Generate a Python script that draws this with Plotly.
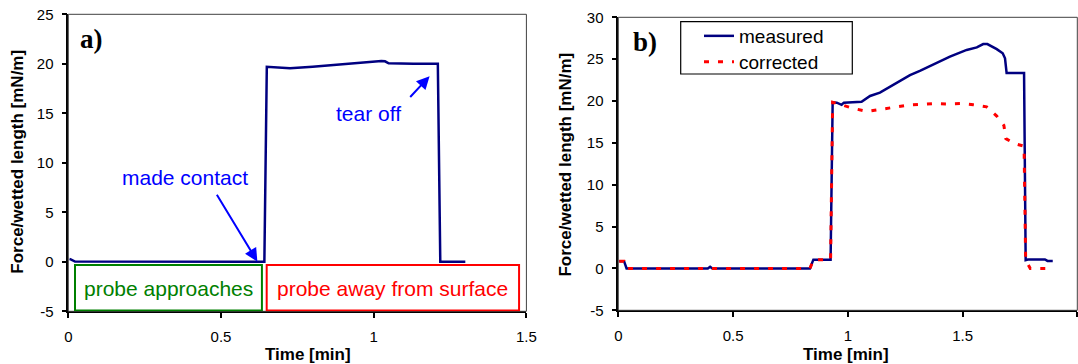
import plotly.graph_objects as go

# ---------------- data ----------------
# panel a (measured)
time_a = [0.004, 0.008, 0.022, 0.15, 0.30, 0.36, 0.45, 0.60, 0.638, 0.642, 0.650, 0.726, 0.80,
          0.857, 0.93, 0.988, 1.025, 1.037, 1.049, 1.130, 1.210, 1.218, 1.300]
force_a = [0.28, 0.25, 0.03, 0.02, 0.0, 0.05, 0.02, 0.0, 0.0, 0.0, 19.7, 19.55, 19.7,
           19.85, 20.0, 20.2, 20.28, 20.25, 20.05, 20.0, 20.0, 0.0, 0.0]

# panel b
time_meas = [0.004, 0.025, 0.036, 0.39, 0.40, 0.41, 0.835, 0.850, 0.922, 0.925, 0.934, 0.952,
             0.973, 0.983, 1.06, 1.097, 1.14, 1.198, 1.271, 1.314, 1.387, 1.445, 1.518, 1.562,
             1.590, 1.608, 1.649, 1.675, 1.685, 1.692, 1.768, 1.775, 1.785, 1.859, 1.870, 1.893]
force_meas = [0.87, 0.87, 0.0, 0.0, 0.2, 0.0, 0.0, 1.05, 1.05, 1.05, 19.85, 19.8,
              19.55, 19.8, 19.9, 20.6, 21.0, 21.9, 23.1, 23.6, 24.6, 25.3, 26.1, 26.4,
              26.8, 26.8, 26.2, 25.7, 25.1, 23.35, 23.35, 1.0, 1.07, 1.07, 0.9, 0.9]

time_corr = [0.004, 0.025, 0.036, 0.835, 0.850, 0.922, 0.925, 0.934, 0.973, 1.027, 1.085,
             1.14, 1.20, 1.259, 1.315, 1.376, 1.434, 1.489, 1.547, 1.605, 1.649, 1.680,
             1.689, 1.729, 1.768, 1.775, 1.795, 1.866]
force_corr = [0.87, 0.87, 0.0, 0.0, 1.05, 1.05, 1.05, 19.85, 19.55, 19.1, 18.75,
              19.0, 19.3, 19.5, 19.6, 19.7, 19.65, 19.7, 19.55, 19.3, 18.2, 17.1,
              15.5, 14.9, 14.6, 1.0, 0.0, 0.0]

xticks_a = [0, 0.5, 1, 1.5]
xticklabels_a = ["0", "0.5", "1", "1.5"]
yticks_a = [-5, 0, 5, 10, 15, 20, 25]
yticklabels_a = ["-5", "0", "5", "10", "15", "20", "25"]
xticks_b = [0, 0.5, 1, 1.5, 2]
xticklabels_b = ["0", "0.5", "1", "1.5", "2"]
yticks_b = [-5, 0, 5, 10, 15, 20, 25, 30]
yticklabels_b = ["-5", "0", "5", "10", "15", "20", "25", "30"]

W, H = 1078, 364
FONT = "Arial, Liberation Sans, sans-serif"
NAVY = "#000080"


def px(x):
    return x / W


def py(y):
    return (H - y) / H


fig = go.Figure()

fig.add_trace(go.Scatter(x=time_a, y=force_a, mode="lines", xaxis="x", yaxis="y",
                         line=dict(color=NAVY, width=2.5), showlegend=False))
fig.add_trace(go.Scatter(x=time_meas, y=force_meas, mode="lines", xaxis="x2", yaxis="y2",
                         name="measured", legend="legend", line=dict(color=NAVY, width=2.5)))
fig.add_trace(go.Scatter(x=time_corr, y=force_corr, mode="lines", xaxis="x2", yaxis="y2",
                         name="corrected", legend="legend2",
                         line=dict(color="#FF0000", width=3, dash="5px,9px")))

axis_common = dict(showgrid=False, zeroline=False, showline=True, linecolor="black", linewidth=1.5,
                   ticks="outside", ticklen=5, tickwidth=1.5, tickcolor="black", automargin=False,
                   tickfont=dict(family=FONT, size=15, color="black"))

legend_common = dict(xanchor="left", yanchor="top", bgcolor="rgba(0,0,0,0)", borderwidth=0,
                     itemwidth=30, font=dict(family=FONT, size=19, color="black"))

fig.update_layout(
    width=W, height=H,
    margin=dict(l=0, r=0, t=0, b=0, pad=0, autoexpand=False),
    paper_bgcolor="white", plot_bgcolor="white",
    xaxis=dict(domain=[px(68.3), px(526.4)], range=[0, 1.5], anchor="y",
               tickvals=xticks_a, ticktext=xticklabels_a, ticklabelstandoff=6, **axis_common),
    yaxis=dict(domain=[py(311.3), py(14.3)], range=[-5, 25], anchor="x",
               tickvals=yticks_a, ticktext=yticklabels_a, ticklabelstandoff=5, **axis_common),
    xaxis2=dict(domain=[px(618.3), px(1077.3)], range=[0, 2], anchor="y2",
                tickvals=xticks_b, ticktext=xticklabels_b, ticklabelstandoff=6, **axis_common),
    yaxis2=dict(domain=[py(310.3), py(17.3)], range=[-5, 30], anchor="x2",
                tickvals=yticks_b, ticktext=yticklabels_b, ticklabelstandoff=5, **axis_common),
    legend=dict(x=px(699), y=py(17), **legend_common),
    legend2=dict(x=px(699), y=py(43), **legend_common),
)

shapes = []
# top/right frame of each panel
for xr, yr in (("x domain", "y domain"), ("x2 domain", "y2 domain")):
    shapes.append(dict(type="rect", xref=xr, yref=yr, x0=0, x1=1, y0=0, y1=1,
                       line=dict(color="#404040", width=1), layer="above"))
# labelled boxes in panel a
shapes.append(dict(type="rect", xref="x", yref="y", x0=0.0219, x1=0.634, y0=-0.33, y1=-4.91,
                   line=dict(color="#008000", width=2)))
shapes.append(dict(type="rect", xref="x", yref="y", x0=0.6496, x1=1.476, y0=-0.33, y1=-4.91,
                   line=dict(color="#FF0000", width=2)))
# legend frame
shapes.append(dict(type="rect", xref="paper", yref="paper", x0=px(680.7), x1=px(852.3),
                   y0=py(74), y1=py(21.7), line=dict(color="black", width=1.2)))
fig.update_layout(shapes=shapes)

ann = []
TXT = dict(family=FONT, size=21)
C = dict(xanchor="center", yanchor="middle")
ann.append(dict(x=0.3805, y=8.48, xref="x", yref="y", text="made contact", showarrow=False,
                font=dict(color="#0000FF", **TXT), **C))
ann.append(dict(x=0.619, y=0.03, ax=0.4835, ay=6.93, xref="x", yref="y", axref="x", ayref="y",
                text="", showarrow=True, arrowhead=2, arrowsize=1.3, arrowwidth=2,
                arrowcolor="#0000FF", standoff=0))
ann.append(dict(x=0.9816, y=15.0, xref="x", yref="y", text="tear off", showarrow=False,
                font=dict(color="#0000FF", **TXT), **C))
ann.append(dict(x=1.183, y=18.75, ax=1.115, ay=16.5, xref="x", yref="y", axref="x", ayref="y",
                text="", showarrow=True, arrowhead=2, arrowsize=1.3, arrowwidth=2,
                arrowcolor="#0000FF", standoff=0))
ann.append(dict(x=0.327, y=-2.65, xref="x", yref="y", text="probe approaches", showarrow=False,
                font=dict(color="#008000", **TXT), **C))
ann.append(dict(x=1.0607, y=-2.65, xref="x", yref="y", text="probe away from surface",
                showarrow=False, font=dict(color="#FF0000", **TXT), **C))
# panel labels
SERIF = dict(family="Liberation Serif, Times New Roman, serif", size=27, color="black")
ann.append(dict(x=px(78), y=py(39), xref="paper", yref="paper", text="<b>a)</b>", showarrow=False,
                xanchor="left", yanchor="middle", font=SERIF))
ann.append(dict(x=px(631), y=py(42), xref="paper", yref="paper", text="<b>b)</b>", showarrow=False,
                xanchor="left", yanchor="middle", font=SERIF))
# axis titles
TF = dict(family=FONT, size=17, color="black")
ann.append(dict(x=px(307.7), y=py(354), xref="paper", yref="paper", text="<b>Time [min]</b>",
                showarrow=False, font=TF, **C))
ann.append(dict(x=px(845.5), y=py(354), xref="paper", yref="paper", text="<b>Time [min]</b>",
                showarrow=False, font=TF, **C))
ann.append(dict(x=px(18), y=py(161.7), xref="paper", yref="paper",
                text="<b>Force/wetted length [mN/m]</b>", showarrow=False, textangle=-90, font=TF, **C))
ann.append(dict(x=px(565.4), y=py(164.2), xref="paper", yref="paper",
                text="<b>Force/wetted length [mN/m]</b>", showarrow=False, textangle=-90, font=TF, **C))
fig.update_layout(annotations=ann)

fig.write_html("out.html")
